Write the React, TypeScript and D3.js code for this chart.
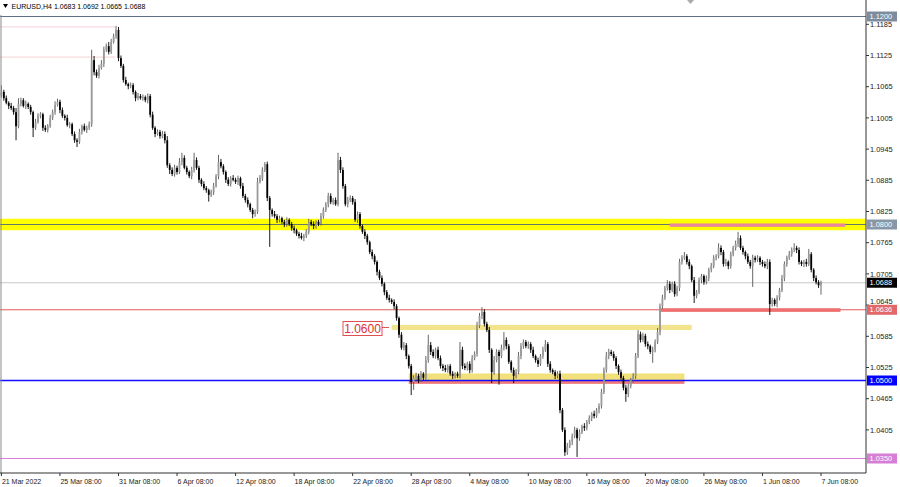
import React from "react";
import * as d3 from "d3";

// H4 closes in pips (price * 10000), one per bar from 21 Mar 08:00 to 7 Jun 08:00
const closePips = [
  11055,11043,11034,11028,11024,11016,10989,11032,11039,11028,11032,11026,
  11016,10986,10997,11009,11012,10986,10982,10989,11005,11016,11030,11036,
  11020,11009,11005,10991,10993,10974,10962,10959,10978,10989,10982,10986,
  10993,11116,11093,11086,11101,11109,11136,11143,11132,11151,11162,11174,
  11120,11105,11078,11070,11066,11068,11055,11043,11047,11043,11045,11039,
  11047,11011,10986,10974,10978,10970,10974,10962,10914,10905,10897,10909,
  10901,10920,10928,10909,10901,10893,10905,10924,10909,10886,10878,10870,
  10866,10857,10862,10874,10893,10920,10912,10901,10886,10878,10889,10886,
  10882,10889,10874,10855,10847,10839,10828,10820,10824,10882,10889,10905,
  10916,10851,10828,10820,10816,10809,10812,10805,10801,10809,10801,10793,
  10789,10782,10778,10774,10778,10786,10805,10801,10797,10805,10801,10816,
  10828,10839,10855,10843,10847,10839,10924,10905,10874,10839,10847,10851,
  10843,10809,10820,10797,10786,10778,10766,10747,10739,10728,10709,10697,
  10686,10670,10659,10655,10651,10643,10620,10588,10563,10568,10547,10528,
  10497,10505,10509,10501,10513,10505,10539,10568,10555,10547,10559,10543,
  10528,10524,10520,10528,10513,10509,10513,10509,10559,10528,10524,10532,
  10520,10543,10551,10605,10624,10632,10609,10597,10559,10516,10539,10555,
  10547,10563,10578,10566,10536,10520,10509,10516,10547,10566,10574,10566,
  10570,10559,10547,10539,10532,10547,10559,10570,10532,10520,10516,10509,
  10513,10443,10405,10362,10374,10382,10393,10405,10389,10401,10412,10409,
  10420,10428,10436,10432,10443,10451,10478,10520,10547,10555,10551,10543,
  10528,10516,10505,10486,10474,10489,10501,10509,10547,10589,10578,10586,
  10570,10566,10555,10559,10574,10593,10643,10659,10678,10686,10674,10686,
  10666,10678,10728,10736,10739,10728,10720,10693,10663,10670,10693,10701,
  10689,10697,10713,10720,10736,10739,10755,10747,10724,10728,10720,10743,
  10755,10763,10774,10755,10747,10739,10728,10720,10736,10732,10736,10728,
  10724,10720,10728,10647,10655,10647,10659,10674,10697,10724,10736,10743,
  10751,10755,10751,10728,10724,10728,10724,10743,10713,10697,10689,10683,
  10688,
];

// upper shadow length in pips above the body
const wickUpPips = [
  13,4,5,3,6,4,8,11,5,4,6,3,
  4,3,6,5,4,3,5,4,6,5,7,6,
  4,5,3,6,4,3,5,4,6,3,5,4,
  5,20,8,5,6,7,6,5,8,6,5,8,
  6,5,4,6,3,5,4,3,6,4,5,3,
  5,4,6,3,5,4,6,5,8,4,5,6,
  4,8,10,5,4,3,6,14,5,4,3,5,
  4,3,5,6,4,14,6,4,3,5,4,6,
  4,5,3,6,4,5,3,4,5,8,6,5,
  4,5,4,3,6,4,5,3,4,5,3,4,
  5,3,4,6,4,5,6,4,5,3,4,6,
  5,4,6,5,4,5,14,6,5,4,6,5,
  4,6,5,4,3,5,4,3,5,4,3,4,
  5,3,4,6,3,5,4,3,5,6,4,3,
  4,5,6,4,5,3,8,20,6,5,4,6,
  5,4,6,3,4,5,3,4,15,6,5,4,
  5,6,5,8,6,9,5,4,6,3,8,5,
  4,6,15,5,4,3,5,6,8,6,5,4,
  5,4,6,3,5,4,6,8,4,5,3,4,
  5,6,4,5,6,4,5,6,4,5,3,6,
  4,5,3,6,4,5,6,5,8,6,4,5,
  4,3,5,4,6,5,4,5,6,8,5,6,
  4,5,3,6,5,8,5,6,4,7,5,4,
  5,4,6,5,8,4,5,3,6,4,5,4,
  3,5,4,6,5,4,9,5,4,6,3,5,
  4,6,12,5,4,3,5,4,6,4,5,3,
  4,5,6,5,4,3,5,4,6,5,4,6,
  5,9,4,5,3,4,6,10,4,3,5,4,
  4,
];

// lower shadow length in pips below the body
const wickDnPips = [
  4,5,3,6,4,5,27,4,5,3,6,4,
  5,18,4,3,5,6,4,5,3,4,5,3,
  6,4,5,3,6,4,5,10,4,5,3,6,
  4,5,6,4,5,3,6,4,5,4,3,5,
  6,4,5,3,6,4,5,6,4,3,5,4,
  6,5,4,6,3,5,4,6,5,8,4,5,
  5,4,6,3,5,4,6,5,4,6,5,4,
  5,13,4,5,3,6,4,5,6,4,5,3,
  4,6,5,4,5,6,4,8,5,4,3,5,
  4,6,71,5,4,6,5,4,6,5,4,5,
  6,4,5,3,6,4,5,4,6,5,4,3,
  5,4,6,4,5,3,4,6,5,4,6,4,
  5,4,6,5,4,6,5,4,6,5,7,4,
  5,6,4,5,4,6,5,6,4,5,6,5,
  25,15,5,6,4,5,4,5,6,4,5,4,
  5,6,4,5,4,6,5,4,5,6,4,5,
  6,5,4,5,4,6,5,4,6,21,5,4,
  55,4,5,6,4,5,14,5,4,6,5,4,
  5,6,4,5,6,4,5,4,6,5,4,6,
  5,6,4,7,5,4,6,4,36,5,4,6,
  5,4,6,5,4,6,5,4,5,6,4,5,
  6,5,4,5,15,6,4,5,6,4,5,4,
  5,6,4,21,5,4,6,5,4,5,6,4,
  5,4,6,5,4,5,6,4,14,5,4,6,
  5,4,6,5,4,5,4,6,5,4,6,5,
  4,5,6,4,5,6,4,5,40,5,4,6,
  5,4,6,21,5,4,6,5,4,6,5,4,
  5,4,6,5,4,6,5,4,5,6,4,5,
  18,
];

const firstOpenPips = 11048;

const symbolTitle = "EURUSD,H4";
const lastOHLC = ["1.0683", "1.0692", "1.0665", "1.0688"];

const dateLabels = [
  "21 Mar 2022", "25 Mar 08:00", "31 Mar 08:00", "6 Apr 08:00", "12 Apr 08:00",
  "18 Apr 08:00", "22 Apr 08:00", "28 Apr 08:00", "4 May 08:00", "10 May 08:00",
  "16 May 08:00", "20 May 08:00", "26 May 08:00", "1 Jun 08:00", "7 Jun 08:00",
];
const dateLabelBars = [0, 24, 48, 72, 96, 120, 144, 168, 192, 216, 240, 264, 288, 312, 336];

const priceTicks = [
  1.1185, 1.1125, 1.1065, 1.1005, 1.0945, 1.0885, 1.0825, 1.0765,
  1.0705, 1.0645, 1.0585, 1.0525, 1.0465, 1.0405,
];

// horizontal levels with right-axis markers
const levelPrices = [1.12, 1.08, 1.0688, 1.0636, 1.05, 1.035];
const levelLine = ["#5f7086", "#667766", "#c9c9c9", "#e25c5c", "#1010ff", "#dc7ddc"];
const levelBox = ["#7c8c9e", "#8797a8", "#000000", "#e26868", "#0000ff", "#d67ed6"];

// background zones: [priceLow, priceHigh, barFrom, barTo]
const zoneLow = [1.0789, 1.0597, 1.0500, 1.04935];
const zoneHigh = [1.0811, 1.0607, 1.05135, 1.0500];
const zoneFrom = [-10, 160, 167, 167];
const zoneTo = [370, 283, 280, 280];
const zoneColor = ["#ffff00", "#f2e48c", "#f2e07a", "#f07b7b"];

// foreground marker bars
const markLow = [1.07955, 1.0632];
const markHigh = [1.0802, 1.0639];
const markFrom = [274, 270];
const markTo = [346, 344];
const markColor = ["#e8869a", "#ef6f6f"];

// faint historical lines at top-left
const faintPrices = [1.1180, 1.1122];

export default function App() {
  const W = 900;
  const H = 487;
  const plotRight = 866;
  const plotBottom = 473;
  const font = "'Liberation Sans', Arial, sans-serif";

  const x = d3.scaleLinear().domain([0, 336]).range([1.4, 821]);
  const y = d3.scaleLinear().domain([1.035, 1.12]).range([458.5, 16.5]);

  const bars = closePips.map((c, i) => {
    const o = i === 0 ? firstOpenPips : closePips[i - 1];
    const hi = Math.max(o, c) + wickUpPips[i];
    const lo = Math.min(o, c) - wickDnPips[i];
    return { o: o / 1e4, c: c / 1e4, h: hi / 1e4, l: lo / 1e4 };
  });

  const zx = (b: number) => Math.max(0, Math.min(plotRight, x(b)));

  // nudge a tick label above a level marker box it would collide with
  const tickBaseline = (p: number) => {
    let base = y(p) + 2.6;
    for (const lp of levelPrices) {
      const boxTop = y(lp) - 5;
      const boxBot = y(lp) + 5;
      if (base > boxTop && base - 6 < boxBot && Math.abs(lp - p) > 1e-6) {
        if (y(p) < y(lp)) base = boxTop - 0.3;
      }
    }
    return base;
  };

  return (
    <svg
      width={W}
      height={H}
      style={{ position: "absolute", left: 0, top: 0, background: "#fff" }}
      fontFamily={font}
    >
      <rect x={0} y={0} width={W} height={H} fill="#fff" />

      {/* faint lines */}
      {faintPrices.map((p, i) => (
        <line key={"f" + i} x1={0} x2={115} y1={y(p)} y2={y(p)} stroke="#f6d2d8" strokeWidth={1} />
      ))}

      {/* zones */}
      {zoneLow.map((lo, i) => (
        <rect
          key={"z" + i}
          x={i === 0 ? 0 : zx(zoneFrom[i])}
          width={(i === 0 ? plotRight : zx(zoneTo[i])) - (i === 0 ? 0 : zx(zoneFrom[i]))}
          y={y(zoneHigh[i])}
          height={y(lo) - y(zoneHigh[i])}
          fill={zoneColor[i]}
        />
      ))}

      {/* level lines */}
      {levelPrices.map((p, i) => (
        <line
          key={"l" + i}
          x1={0}
          x2={plotRight}
          y1={y(p)}
          y2={y(p)}
          stroke={levelLine[i]}
          strokeWidth={i === 4 ? 1.4 : 1}
        />
      ))}

      {/* marker bars */}
      {markLow.map((lo, i) => (
        <rect
          key={"mk" + i}
          x={zx(markFrom[i])}
          width={zx(markTo[i]) - zx(markFrom[i])}
          y={y(markHigh[i])}
          height={y(lo) - y(markHigh[i])}
          fill={markColor[i]}
        />
      ))}

      {/* candles */}
      {bars.map((b, i) => {
        const cx = x(i);
        const top = y(Math.max(b.o, b.c));
        const bot = y(Math.min(b.o, b.c));
        const bull = b.c >= b.o;
        return (
          <g key={"c" + i}>
            <line x1={cx} x2={cx} y1={y(b.h)} y2={y(b.l)} stroke={bull ? "#555" : "#000"} strokeWidth={0.9} />
            <rect
              x={cx - 0.9}
              width={1.8}
              y={top}
              height={Math.max(0.8, bot - top)}
              fill={bull ? "#9a9a9a" : "#000"}
            />
          </g>
        );
      })}

      {/* 1.0600 label */}
      <line x1={382} x2={389} y1={y(1.0602)} y2={y(1.0602)} stroke="#e05050" strokeWidth={1} />
      <rect x={343} y={321.5} width={39} height={14} fill="#fff" stroke="#e05050" strokeWidth={1} />
      <text x={362.5} y={332.5} fontSize={12} fill="#e03030" textAnchor="middle">1.0600</text>

      {/* frame */}
      <line x1={1} x2={1} y1={15} y2={plotBottom} stroke="#8a8a8a" strokeWidth={1} />
      <line x1={plotRight} x2={plotRight} y1={0} y2={plotBottom} stroke="#333" strokeWidth={1} />
      <line x1={0} x2={plotRight} y1={plotBottom} y2={plotBottom} stroke="#333" strokeWidth={1} />

      {/* price axis ticks */}
      {priceTicks.map((p, i) => (
        <g key={"pt" + i}>
          <line x1={plotRight} x2={plotRight + 3} y1={y(p)} y2={y(p)} stroke="#333" />
          <text x={870} y={tickBaseline(p)} fontSize={7.4} fill="#222">{p.toFixed(4)}</text>
        </g>
      ))}

      {/* level markers */}
      {levelPrices.map((p, i) => (
        <g key={"m" + i}>
          <rect x={867} y={y(p) - 5} width={30} height={10} fill={levelBox[i]} />
          <text x={869.5} y={y(p) + 2.7} fontSize={7.4} fill="#fff">{p.toFixed(4)}</text>
        </g>
      ))}

      {/* date axis */}
      {dateLabelBars.map((b, i) => (
        <g key={"d" + i}>
          <line x1={x(b)} x2={x(b)} y1={plotBottom} y2={plotBottom + 3} stroke="#333" />
          <text x={x(b) + 0.5} y={484} fontSize={7} fill="#222">{dateLabels[i]}</text>
        </g>
      ))}

      {/* header */}
      <polygon points="3,4 8,4 5.5,8" fill="#000" />
      <text x={11.5} y={8.5} fontSize={7} fill="#000">
        {symbolTitle + "  " + lastOHLC.join(" ")}
      </text>
      <polygon points="687,0 694,0 690.5,4" fill="#aaa" />
    </svg>
  );
}
